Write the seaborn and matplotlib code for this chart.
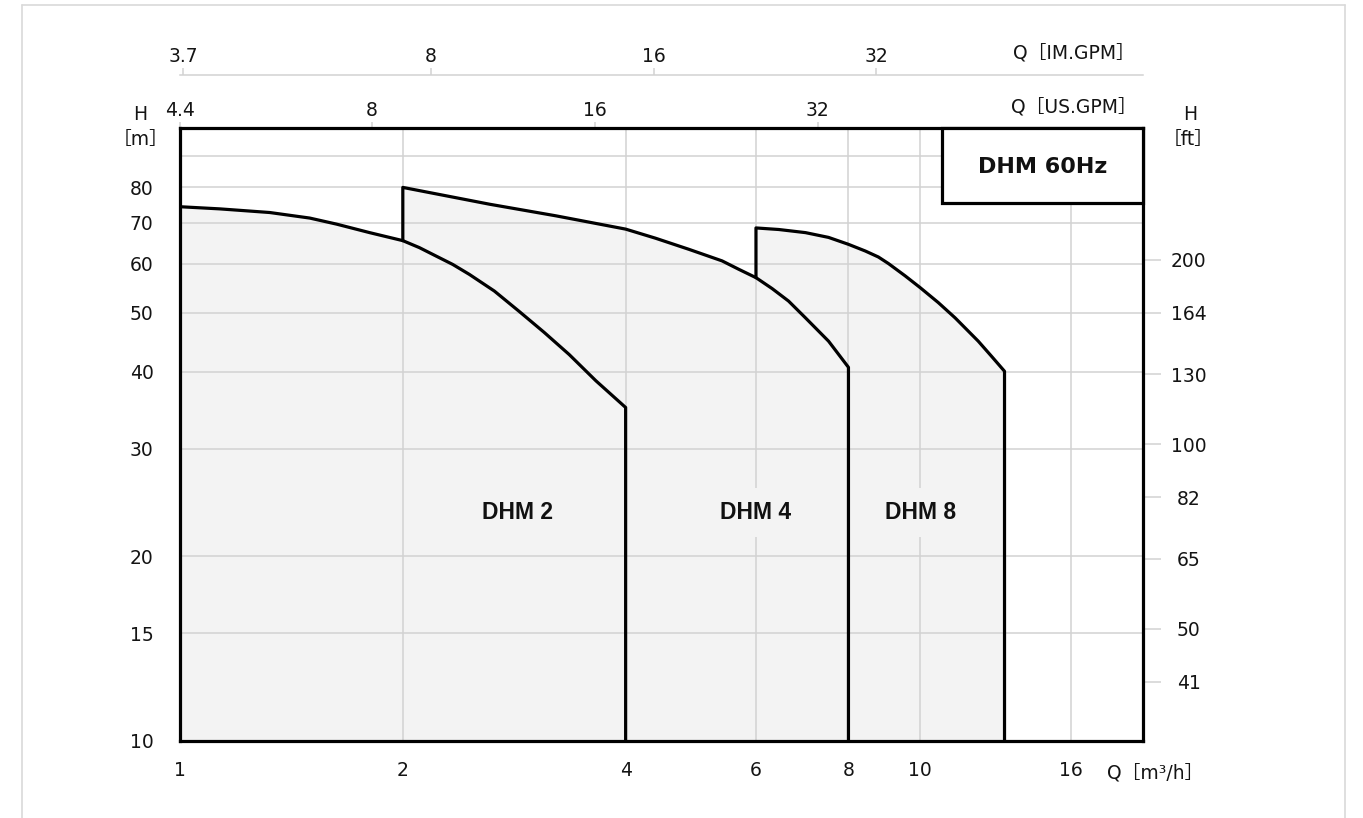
import numpy as np
import pandas as pd
import matplotlib
matplotlib.use("Agg")
import matplotlib.pyplot as plt
from matplotlib.ticker import NullLocator
from matplotlib.patches import Rectangle
from matplotlib.lines import Line2D
import seaborn as sns

# ---------------- data ----------------
dhm2_q = [1.0, 1.132, 1.322, 1.497, 1.627, 1.804, 2.0, 2.106, 2.219, 2.336, 2.46,
          2.659, 2.873, 3.105, 3.356, 3.646, 4.0]
dhm2_h = [74.4, 73.8, 72.8, 71.3, 69.7, 67.5, 65.5, 63.8, 61.8, 59.9, 57.7,
          54.2, 50.2, 46.4, 42.7, 38.7, 35.0]
dhm4_q = [2.0, 2.62, 3.22, 4.0, 4.39, 4.87, 5.4, 5.69, 6.0, 6.31, 6.64, 7.0, 7.52, 8.0]
dhm4_h = [80.0, 75.1, 71.9, 68.4, 66.1, 63.4, 60.7, 58.8, 57.0, 54.7, 52.2, 49.0, 44.9, 40.7]
dhm8_q = [6.0, 6.44, 7.0, 7.52, 8.0, 8.43, 8.78, 9.06, 9.54, 10.0, 10.58, 11.15,
          11.98, 12.49, 13.0]
dhm8_h = [68.7, 68.3, 67.5, 66.3, 64.6, 63.0, 61.6, 60.1, 57.4, 54.9, 51.9, 49.0,
          44.9, 42.4, 40.1]

pump_names = ["DHM 2", "DHM 4", "DHM 8"]
label_q = [2.86, 6.0, 10.0]
label_h = [23.6, 23.6, 23.6]

x_ticks = [1, 2, 4, 6, 8, 10, 16, 20]
x_labels = ["1", "2", "4", "6", "8", "10", "16", ""]
y_ticks = [10, 15, 20, 30, 40, 50, 60, 70, 80, 90, 100]
y_labels = ["10", "15", "20", "30", "40", "50", "60", "70", "80", "", ""]
ft_ticks = [41, 50, 65, 82, 100, 130, 164, 200]
us_ticks = [4.4, 8, 16, 32]
us_labels = ["4.4", "8", "16", "32"]
im_ticks = [3.7, 8, 16, 32]
im_labels = ["3.7", "8", "16", "32"]

M3H_TO_USGPM = 4.4
M3H_TO_IMGPM = 3.666
M_TO_FT = 3.2808
H_MIN, H_MAX = 10, 100
Q_MIN, Q_MAX = 1, 20
title_text = "DHM 60Hz"

# ---------------- style ----------------
sns.set_theme(style="white")
plt.rcParams["font.family"] = ["DejaVu Sans", "Noto Sans CJK KR"]
TXT = "#141414"
GRID = "#d2d2d2"
FILL = "#f3f3f3"
W, H = 1363, 818

fig = plt.figure(figsize=(W / 100, H / 100), dpi=100)
fig.patch.set_facecolor("white")
ax = fig.add_axes([180 / W, 1 - 741 / H, 963 / W, 613 / H])
ax.set_xscale("log")
ax.set_yscale("log")
ax.set_xlim(Q_MIN, Q_MAX)
ax.set_ylim(H_MIN, H_MAX)

# ---------------- outlines of the pump ranges ----------------
start4 = dhm2_h[dhm2_q.index(2.0)]
start8 = dhm4_h[dhm4_q.index(6.0)]
paths = [
    (dhm2_q + [dhm2_q[-1]], dhm2_h + [H_MIN]),
    ([dhm4_q[0]] + dhm4_q + [dhm4_q[-1]], [start4] + dhm4_h + [H_MIN]),
    ([dhm8_q[0]] + dhm8_q + [dhm8_q[-1]], [start8] + dhm8_h + [H_MIN]),
]
for (qs, hs) in [(dhm2_q, dhm2_h), (dhm4_q, dhm4_h), (dhm8_q, dhm8_h)]:
    ax.fill_between(qs, hs, H_MIN, color=FILL, lw=0, zorder=1)

rows = []
for name, (qs, hs) in zip(pump_names, paths):
    for i, (q, h) in enumerate(zip(qs, hs)):
        rows.append({"pump": name, "q": q, "h": h, "i": i})
df = pd.DataFrame(rows)
for name in pump_names:
    sub = df[df["pump"] == name]
    sns.lineplot(data=sub, x="q", y="h", sort=False, estimator=None,
                 color="black", lw=2.3, ax=ax, zorder=4, legend=False)
for ln in ax.get_lines():
    ln.set_solid_joinstyle("round")

# ---------------- grid, ticks ----------------
ax.set_axisbelow(False)
ax.set_xticks(x_ticks, labels=x_labels)
ax.set_yticks(y_ticks, labels=y_labels)
ax.xaxis.set_minor_locator(NullLocator())
ax.yaxis.set_minor_locator(NullLocator())
ax.grid(True, which="major", color=GRID, lw=1.1, zorder=2)
for gl in ax.get_xgridlines() + ax.get_ygridlines():
    gl.set_zorder(2)
ax.tick_params(axis="x", direction="out", length=8, width=1.1, color=GRID,
               labelsize=13.5, labelcolor=TXT, pad=6.5)
ax.tick_params(axis="y", direction="out", length=11, width=1.1, color=GRID,
               labelsize=13.5, labelcolor=TXT, pad=8)
ax.set_xlabel("")
ax.set_ylabel("")
for s in ax.spines.values():
    s.set_color("black")
    s.set_linewidth(2.3)
    s.set_zorder(5)

# right axis in ft
sec_ft = ax.secondary_yaxis("right", functions=(lambda m: m * M_TO_FT, lambda f: f / M_TO_FT))
sec_ft.set_yticks(ft_ticks, labels=[str(v) for v in ft_ticks])
sec_ft.yaxis.set_minor_locator(NullLocator())
sec_ft.tick_params(direction="out", length=13, width=1.1, color=GRID,
                   labelsize=13.5, labelcolor=TXT, pad=20)
for t in sec_ft.get_yticklabels():
    t.set_horizontalalignment("center")
sec_ft.spines["right"].set_visible(False)

# top axis US GPM
sec_us = ax.secondary_xaxis("top", functions=(lambda q: q * M3H_TO_USGPM, lambda g: g / M3H_TO_USGPM))
sec_us.set_xticks(us_ticks, labels=us_labels)
sec_us.xaxis.set_minor_locator(NullLocator())
sec_us.tick_params(direction="out", length=4, width=1.1, color=GRID,
                   labelsize=13.5, labelcolor=TXT, pad=1.5)
sec_us.spines["top"].set_visible(False)

# upper axis IM GPM
sec_im = ax.secondary_xaxis((741 - 75) / 613, functions=(lambda q: q * M3H_TO_IMGPM, lambda g: g / M3H_TO_IMGPM))
sec_im.set_xticks(im_ticks, labels=im_labels)
sec_im.xaxis.set_minor_locator(NullLocator())
sec_im.tick_params(direction="out", length=5, width=1.1, color=GRID,
                   labelsize=13.5, labelcolor=TXT, pad=1.5)
sec_im.spines["top"].set_color(GRID)
sec_im.spines["top"].set_linewidth(1.1)

# ---------------- labels ----------------
for name, q, h in zip(pump_names, label_q, label_h):
    ax.text(q, h, name, ha="center", va="center", fontsize=16.5, fontweight="bold",
            family=["Liberation Sans", "DejaVu Sans"], color="#111111", zorder=6,
            bbox=dict(boxstyle="square,pad=0.55", fc=FILL, ec="none"))

ax.add_patch(Rectangle((0.791, 0.8777), 0.209, 0.1223, transform=ax.transAxes,
                       fc="white", ec="black", lw=2.3, zorder=6, clip_on=False))
ax.text(0.8956, 0.937, title_text, transform=ax.transAxes, ha="center", va="center",
        fontsize=16, fontweight="bold", family=["DejaVu Sans"],
        color="#111111", zorder=7)


def ftext(x, y, s, **kw):
    fig.text(x / W, 1 - y / H, s, ha="center", va="center", fontsize=13.5,
             color=TXT, family=["DejaVu Sans", "Noto Sans CJK KR"], **kw)


ftext(140, 115, "H")
ftext(141, 139, "［m］")
ftext(1190, 115, "H")
ftext(1188, 139, "［ft］")
ftext(1074, 108, "Q［US.GPM］")
ftext(1074, 54, "Q［IM.GPM］")
ftext(1155, 774, "Q［m³/h］")

# light outer frame
for xs, ys in [((22, 22), (5, H)), ((22, 1345), (5, 5)), ((1345, 1345), (5, H))]:
    fig.add_artist(Line2D([x / W for x in xs], [1 - y / H for y in ys],
                          color="#d9d9d9", lw=1.2))

fig.savefig("out.png", dpi=100, facecolor="white")
